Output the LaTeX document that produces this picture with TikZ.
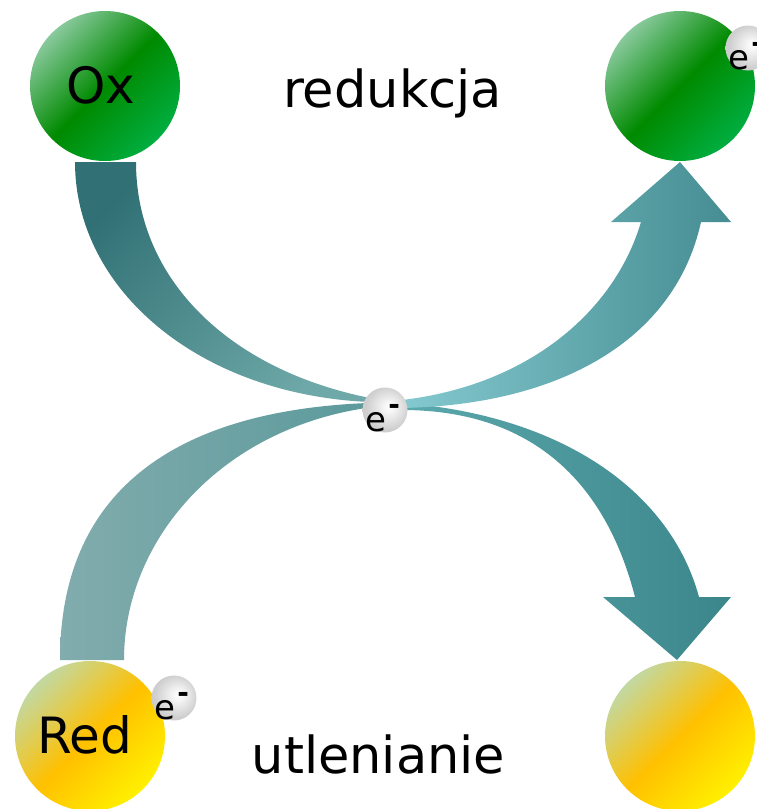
\documentclass[tikz,border=0pt]{standalone}
\usepackage{fontspec}
\setmainfont{DejaVu Sans}
% colours of the spheres
\definecolor{greenTL}{HTML}{88C99C}
\definecolor{greenMid}{HTML}{008A00}
\definecolor{greenBR}{HTML}{00AE40}
\definecolor{goldTL}{HTML}{C2D8A2}
\definecolor{goldMid}{HTML}{FFC000}
\definecolor{goldBR}{HTML}{FFF000}
% colours of the bands and arrows
\definecolor{bandAdark}{HTML}{317175}
\definecolor{bandAlight}{HTML}{6EA8A8}
\definecolor{bandBleft}{HTML}{82ACAD}
\definecolor{bandBright}{HTML}{5C9A9C}
\definecolor{upLeft}{HTML}{84C9CF}
\definecolor{upRight}{HTML}{458D92}
\definecolor{downLeft}{HTML}{5BA8AD}
\definecolor{downRight}{HTML}{3B868A}
% electron: light grey sphere with a soft highlight towards the upper right
\pgfdeclareradialshading{electronshade}{\pgfpoint{5bp}{4bp}}{%
  color(0bp)=(white); color(6bp)=(gray!8); color(24bp)=(gray!38); color(50bp)=(gray!48)}
\begin{document}
\begin{tikzpicture}[x=1pt,y=-1pt,
  greenball/.style={circle, minimum size=150pt, inner sep=0pt,
    top color=greenTL, bottom color=greenBR, middle color=greenMid, shading angle=45},
  goldball/.style={circle, minimum size=150pt, inner sep=0pt,
    top color=goldTL, bottom color=goldBR, middle color=goldMid, shading angle=45},
  electron/.style={circle, minimum size=45pt, inner sep=0pt, shade, shading=electronshade},
  bigtext/.style={font=\fontsize{50}{60}\selectfont, inner sep=0pt, anchor=base},
  wordtext/.style={font=\fontsize{51}{60}\selectfont, inner sep=0pt, anchor=base},
  etext/.style={font=\fontsize{34}{40}\selectfont, inner sep=0pt, anchor=base},
]
\useasboundingbox (0,0) rectangle (757,809);
\clip (0,0) rectangle (757,809);

% Ox -> e-  (tapering band)
\shade[top color=bandAdark, bottom color=bandAlight, shading angle=45]
  (75,162) .. controls (75,290) and (200,395) .. (370,402)
  -- (370,398) .. controls (230,370) and (136,280) .. (136,162) -- cycle;

% Red -> e-  (tapering band)
\shade[left color=bandBleft, right color=bandBright]
  (60,660) .. controls (60,480) and (190,410) .. (368,403)
  -- (366,408) .. controls (220,430) and (124,540) .. (124,660) -- cycle;

% e- -> lower right (oxidised form)
\shade[left color=downLeft, right color=downRight]
  (402,403) .. controls (560,415) and (670,490) .. (699,597)
  -- (731,597) -- (677,660) -- (603,597) -- (635,597)
  .. controls (605,480) and (530,410) .. (402,410) -- cycle;

% e- -> upper right (reduced form)
\shade[left color=upLeft, right color=upRight]
  (402,400) .. controls (530,385) and (615,310) .. (641,222)
  -- (611,222) -- (680,162) -- (731,222) -- (701,222)
  .. controls (675,340) and (560,405) .. (402,408) -- cycle;

% spheres
\node[greenball] (ox) at (105,86) {};
\node[greenball] (oxe) at (680,86) {};
\node[goldball] (red) at (90,736) {};
\node[goldball] (rede) at (680,736) {};

\node[bigtext] (oxlabel) at (100.5,103) {Ox};
\node[bigtext] (redlabel) at (84.5,753) {Red};

% electrons
\node[electron] (ecentre) at (385,410) {};
\node[electron] (ered) at (174,698) {};
\node[electron] (eox) at (748,48) {};
\foreach \e in {ecentre,ered,eox}
  \node[etext] (\e-txt) at ([shift={(-2pt,-21pt)}]\e.center)
    {e\hspace{1.5pt}\raisebox{17pt}{\fontsize{28}{28}\selectfont\bfseries -}};

% process names
\node[wordtext] (reduction) at (392.5,107) {redukcja};
\node[wordtext] (oxidation) at (378.5,773) {utlenianie};
\end{tikzpicture}
\end{document}
